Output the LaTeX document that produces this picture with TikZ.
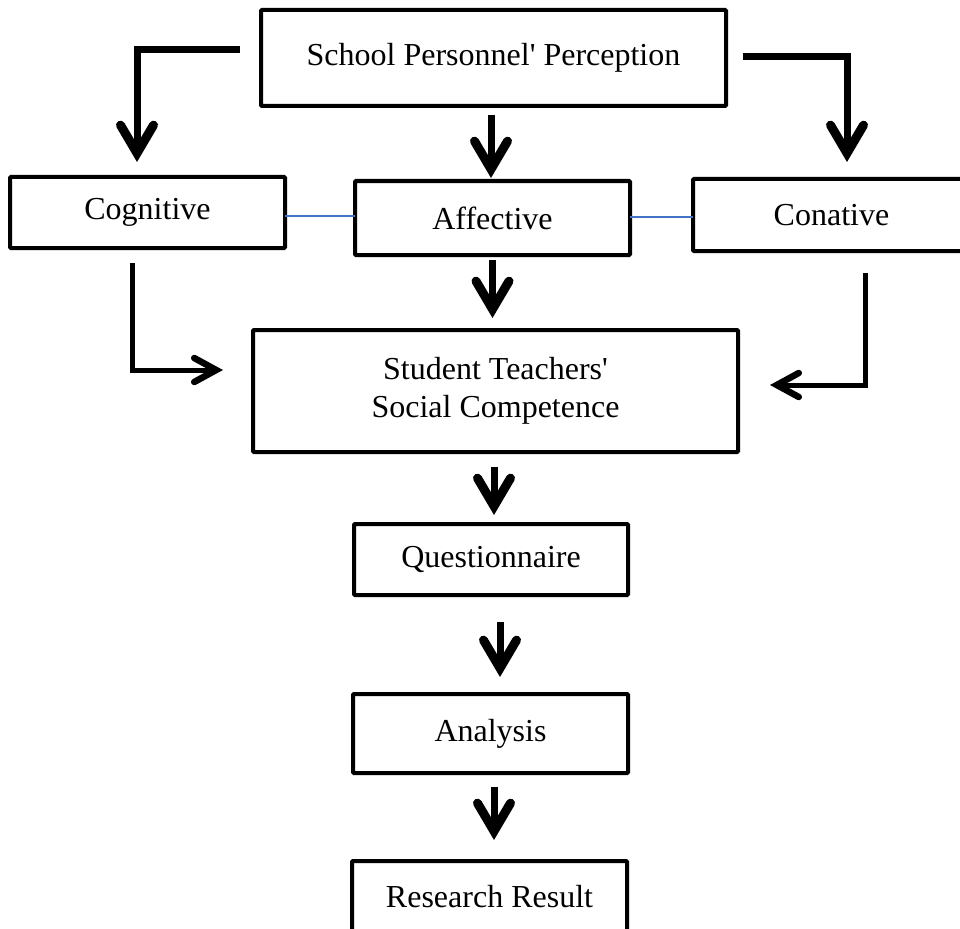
\documentclass[tikz,border=0pt]{standalone}
\usepackage{fontspec}
\setmainfont{Liberation Serif}[Ligatures=TeXOff]
\usetikzlibrary{arrows.meta}
\tikzset{
  box/.style={draw=black, line width=4pt, inner sep=0pt, outer sep=0pt, align=center,
    font=\fontsize{32}{38}\selectfont, rounded corners=1pt},
  bigarr/.style={draw=black, line width=7pt, -{Straight Barb[length=28pt,width=33pt,line width=9pt,line cap=round,line join=miter]}},
  elbarr/.style={draw=black, line width=5pt, -{Straight Barb[length=22pt,width=24pt,line width=6.5pt,line cap=round,line join=miter]}},
  link/.style={draw={rgb,255:red,68;green,114;blue,196}, line width=1.5pt},
}
\begin{document}
\begin{tikzpicture}[x=1pt,y=-1pt]
\useasboundingbox (0,0) rectangle (960,928);
\clip (0,0) rectangle (960,928);
\node[box, minimum width=465pt, minimum height=96pt] (school) at (493.5,58) {School Personnel' Perception};
\node[box, minimum width=275pt, minimum height=71pt] (cog) at (147.5,212.5) {Cognitive};
\node[box, minimum width=275pt, minimum height=74pt] (aff) at (492.5,218) {Affective};
\node[box, minimum width=277pt, minimum height=72pt] (con) at (831.5,215) {Conative};
\node[box, minimum width=485pt, minimum height=122pt] (stu) at (495.5,391) {Student Teachers'\\Social Competence};
\node[box, minimum width=274pt, minimum height=71pt] (que) at (491,559.5) {Questionnaire};
\node[box, minimum width=275pt, minimum height=79pt] (ana) at (490.5,733.5) {Analysis};
\node[box, minimum width=275pt, minimum height=76pt] (res) at (489.5,899) {\raisebox{6pt}{Research Result}};
% thin links
\draw[link] (cog.east) ++(0,3.5) coordinate (lk1) -- (lk1 -| aff.west);
\draw[link] (aff.east) ++(0,-1) coordinate (lk2) -- (lk2 -| con.west);
% bent arrows from top
\coordinate (l1s) at (240,50);
\coordinate (l1e) at (137,162);
\draw[bigarr, line join=miter] (l1s) -| (l1e);
\coordinate (r1s) at (743,57);
\coordinate (r1e) at (847,162);
\draw[bigarr, line join=miter] (r1s) -| (r1e);
% middle arrow
\draw[bigarr] ([xshift=-2.5pt,yshift=-9pt]school.south) -- ([xshift=-1.5pt,yshift=3pt]aff.north);
% elbow arrows into student box
\coordinate (c1s) at (132,263);
\coordinate (c1e) at (223,370);
\draw[elbarr, line join=miter] (c1s) |- (c1e);
\coordinate (c2s) at (865,273);
\coordinate (c2e) at (770,385);
\draw[elbarr, line join=miter] (c2s) |- (c2e);
\draw[bigarr] ([yshift=-5pt]aff.south) -- ([yshift=12pt]aff.south |- stu.north);
% lower chain
\draw[bigarr] ([xshift=-1.5pt,yshift=-15pt]stu.south) -- ([xshift=3pt,yshift=9pt]que.north);
\draw[bigarr] ([xshift=9pt,yshift=-27pt]que.south) -- ([xshift=9.5pt,yshift=17pt]ana.north);
\draw[bigarr] ([xshift=3.5pt,yshift=-14pt]ana.south) -- ([xshift=4.5pt,yshift=21pt]res.north);
\end{tikzpicture}
\end{document}
